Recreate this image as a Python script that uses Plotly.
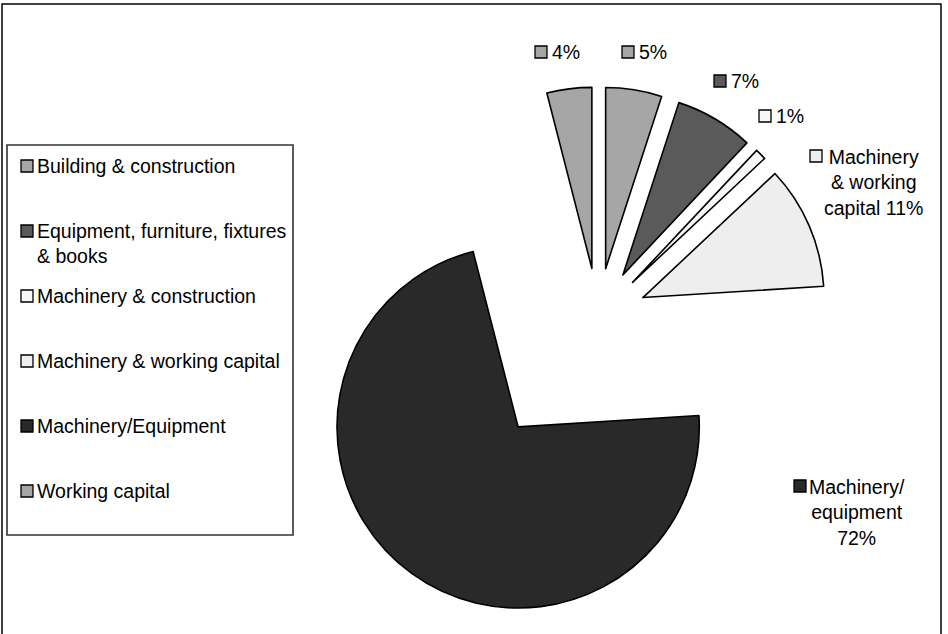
import plotly.graph_objects as go

# Share of project cost by purpose (percent)
categories = [
    "Building & construction",
    "Equipment, furniture, fixtures & books",
    "Machinery & construction",
    "Machinery & working capital",
    "Machinery/Equipment",
    "Working capital",
]
legend_names = [
    "Building & construction",
    "Equipment, furniture, fixtures<br>& books",
    "Machinery & construction",
    "Machinery & working capital",
    "Machinery/Equipment",
    "Working capital",
]
shares = [5, 7, 1, 11, 72, 4]
label_captions = ["", "", "", "Machinery<br>& working<br>capital ", "Machinery/<br>equipment<br>", ""]
colors = ["#a6a6a6", "#5a5a5a", "#f7f7f7", "#eeeeee", "#292929", "#a6a6a6"]
pulls = [0.27, 0.27, 0.27, 0.27, 0.75, 0.27]

W, H = 948, 634
FONT = "Arial, Liberation Sans, sans-serif"
FONT_SIZE = 19.5


def fx(x):
    return x / W


def fy(y):
    return 1 - y / H


fig = go.Figure(
    go.Pie(
        labels=categories,
        values=shares,
        sort=False,
        direction="clockwise",
        rotation=0,
        pull=pulls,
        marker=dict(colors=colors, line=dict(color="#000000", width=1.6)),
        textinfo="none",
        hoverinfo="skip",
        showlegend=False,
        domain=dict(x=[0.2708, 0.9908], y=[0, 1]),
    )
)

shapes = []
annotations = []


def key_square(cx, cy, color, size=12):
    shapes.append(dict(
        type="rect", xref="paper", yref="paper",
        x0=fx(cx - size / 2), x1=fx(cx + size / 2),
        y0=fy(cy + size / 2), y1=fy(cy - size / 2),
        fillcolor=color, line=dict(color="#000000", width=1.3),
    ))


def text(x, y, s, xanchor="left", align="left"):
    annotations.append(dict(
        xref="paper", yref="paper", x=fx(x), y=fy(y), text=s,
        showarrow=False, xanchor=xanchor, yanchor="middle", align=align,
        font=dict(family=FONT, size=FONT_SIZE, color="#000000"), borderpad=0,
    ))


# Outer frame (open at the bottom edge)
shapes.append(dict(type="rect", xref="paper", yref="paper",
                   x0=fx(2), x1=fx(941), y0=-0.05, y1=fy(4),
                   line=dict(color="#000000", width=1.5), fillcolor="rgba(0,0,0,0)"))

# Legend box
shapes.append(dict(type="rect", xref="paper", yref="paper",
                   x0=fx(7), x1=fx(293), y0=fy(535), y1=fy(145),
                   line=dict(color="#333333", width=1.6), fillcolor="rgba(0,0,0,0)"))

legend_rows = [166, 231, 296, 361, 426, 491]
for name, color, row in zip(legend_names, colors, legend_rows):
    key_square(27, row, color)
    n_lines = name.count("<br>") + 1
    text(36, row + (n_lines - 1) * 12, name)

# Data labels with their colour keys
label_spots = {
    5: dict(key=(541, 52), text=(551, 52), anchor="left"),
    0: dict(key=(628, 52), text=(638, 52), anchor="left"),
    1: dict(key=(720, 81), text=(730, 81), anchor="left"),
    2: dict(key=(765, 116), text=(775, 116), anchor="left"),
    3: dict(key=(816, 156), text=(873, 182), anchor="center"),
    4: dict(key=(800, 486), text=(857, 512), anchor="center"),
}
for i, spot in label_spots.items():
    key_square(*spot["key"], colors[i])
    s = f"{label_captions[i]}{shares[i]}%"
    text(*spot["text"], s, xanchor=spot["anchor"], align="center")

fig.update_layout(
    width=W, height=H,
    margin=dict(l=0, r=0, t=0, b=0, pad=0),
    paper_bgcolor="#ffffff", plot_bgcolor="#ffffff",
    shapes=shapes, annotations=annotations,
    font=dict(family=FONT, size=FONT_SIZE, color="#000000"),
)

fig.write_html("out.html")
